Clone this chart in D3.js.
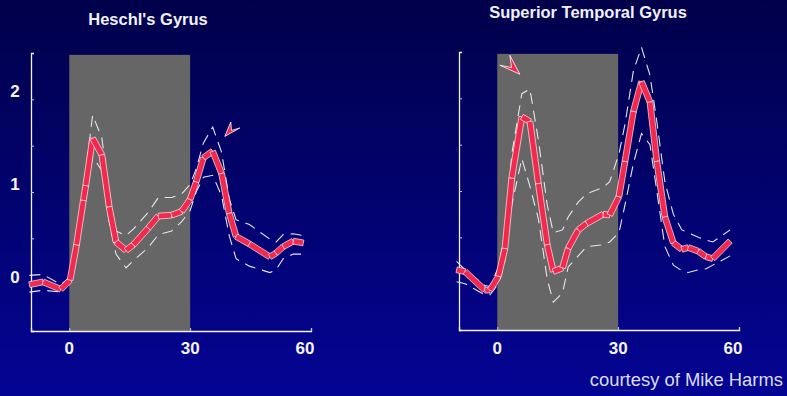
<!DOCTYPE html>
<html>
<head>
<meta charset="utf-8">
<script src="https://cdn.jsdelivr.net/npm/d3@7"></script>
<style>
  body { margin: 0; background: #000050; }
  svg { display: block; font-family: "Liberation Sans", Arial, sans-serif; }
</style>
</head>
<body>
<svg id="chart" width="787" height="396"></svg>
<script>
// Heschl's gyrus: time (s) and % signal change, with the +/- error band
const heschlTime  = [-9.9, -6.5, -2.1, 0.2, 1.8, 3.5, 4.1, 5.8, 8.1, 9.9, 11.6, 14.1, 15.9, 19.6, 22.1, 25.4, 27.9, 30.0, 31.5, 33.3, 35.6, 37.8, 39.7, 41.4, 44.7, 49.8, 51.3, 53.1, 55.6, 58.1];
const heschlMean  = [0.00, 0.03, -0.05, 0.05, 0.43, 0.91, 1.07, 1.58, 1.40, 0.84, 0.46, 0.37, 0.43, 0.61, 0.74, 0.75, 0.79, 0.92, 1.11, 1.37, 1.44, 1.20, 0.77, 0.52, 0.44, 0.30, 0.34, 0.41, 0.47, 0.45];
const heschlUpper = [0.10, 0.11, 0.00, 0.08, 0.53, 1.06, 1.23, 1.83, 1.58, 0.98, 0.58, 0.53, 0.60, 0.78, 0.94, 0.94, 0.98, 1.08, 1.25, 1.53, 1.70, 1.43, 0.93, 0.70, 0.65, 0.49, 0.46, 0.54, 0.55, 0.53];
const heschlLower = [-0.08, -0.06, -0.08, 0.03, 0.33, 0.78, 0.93, 1.38, 1.23, 0.68, 0.33, 0.18, 0.26, 0.40, 0.54, 0.58, 0.68, 0.80, 1.00, 1.16, 1.18, 0.96, 0.53, 0.28, 0.20, 0.13, 0.16, 0.28, 0.33, 0.33];

// Superior temporal gyrus
const stgTime  = [-10.1, -8.0, -3.1, -1.8, 0.3, 1.9, 3.6, 6.1, 8.1, 10.2, 12.4, 13.9, 16.2, 17.6, 20.1, 22.2, 26.3, 27.9, 30.2, 31.7, 33.8, 35.8, 37.9, 39.6, 41.6, 43.7, 45.8, 47.4, 49.9, 51.8, 53.5, 57.8];
const stgMean  = [0.15, 0.13, -0.07, -0.07, 0.08, 0.38, 1.14, 1.80, 1.75, 1.08, 0.42, 0.13, 0.17, 0.38, 0.58, 0.65, 0.75, 0.74, 0.94, 1.32, 1.86, 2.18, 1.96, 1.32, 0.72, 0.44, 0.37, 0.39, 0.35, 0.29, 0.27, 0.46];
const stgUpper = [0.24, 0.15, -0.02, -0.03, 0.18, 0.55, 1.40, 2.05, 2.10, 1.55, 0.85, 0.55, 0.58, 0.72, 0.88, 0.97, 1.04, 1.10, 1.40, 1.72, 2.30, 2.55, 2.25, 1.75, 1.10, 0.75, 0.58, 0.55, 0.50, 0.47, 0.45, 0.58];
const stgLower = [0.02, 0.00, -0.12, -0.12, 0.00, 0.25, 0.85, 1.35, 1.05, 0.70, 0.05, -0.20, -0.10, 0.18, 0.30, 0.40, 0.42, 0.45, 0.55, 0.85, 1.30, 1.62, 1.50, 1.00, 0.40, 0.20, 0.14, 0.12, 0.15, 0.16, 0.20, 0.30];

const stimulus = [0, 30];          // stimulus on/off (s)
const xTickValues = [0, 30, 60];
const yTickValues = [0.5, 1, 1.5, 2];
const yTickLabels = [0, 1, 2];
const xDomain = [-9.5, 60];
const yDomain = [-0.5, 2.5];

// arrow annotations, tip in data units
const heschlArrow = {t: 38.6, v: 1.60};
const stgArrow = {t: 5.6, v: 2.26};

const svg = d3.select("#chart");

// background gradient
const grad = svg.append("defs").append("linearGradient")
  .attr("id", "bg").attr("x1", 0).attr("y1", 0).attr("x2", 0).attr("y2", 1);
grad.append("stop").attr("offset", "0%").attr("stop-color", "#00004a");
grad.append("stop").attr("offset", "100%").attr("stop-color", "#040494");
svg.append("rect").attr("width", 787).attr("height", 396).attr("fill", "url(#bg)");

function drawPanel(opts) {
  const x = d3.scaleLinear().domain(xDomain).range(opts.xRange);
  const y = d3.scaleLinear().domain(yDomain).range(opts.yRange);
  const g = svg.append("g");

  // stimulus block
  g.append("rect")
    .attr("x", x(stimulus[0]))
    .attr("y", y(2.48))
    .attr("width", x(stimulus[1]) - x(stimulus[0]))
    .attr("height", y(yDomain[0]) - y(2.48))
    .attr("fill", "#666666");

  // axes
  const yAxis = g.append("g")
    .attr("transform", `translate(${opts.xRange[0]},0)`)
    .call(d3.axisRight(y).tickValues(yTickValues).tickSize(3).tickFormat(""));
  const xAxis = g.append("g")
    .attr("transform", `translate(0,${opts.yRange[0]})`)
    .call(d3.axisTop(x).tickValues(xTickValues).tickSize(3).tickFormat(""));
  [yAxis, xAxis].forEach(a => {
    a.select(".domain").attr("stroke", "#f2f2f2").attr("stroke-width", 1.3);
    a.selectAll(".tick line").attr("stroke", "#c8c8e0").attr("stroke-width", 1);
  });

  g.selectAll(".xlab")
    .data(xTickValues)
    .enter().append("text")
    .attr("x", d => x(d) + (d === 60 ? -6 : 0))
    .attr("y", 354)
    .attr("text-anchor", "middle")
    .attr("fill", "#f4f4f4")
    .style("font-size", "17px")
    .style("font-weight", "bold")
    .text(d => d);

  if (opts.yLabels) {
    g.selectAll(".ylab")
      .data(yTickLabels)
      .enter().append("text")
      .attr("x", 15)
      .attr("y", d => y(d) - 2)
      .attr("text-anchor", "middle")
      .attr("fill", "#f4f4f4")
      .style("font-size", "17px")
      .style("font-weight", "bold")
      .text(d => d);
  }

  // error band, dashed
  const band = d3.line()
    .x(d => x(d[0]))
    .y(d => y(d[1]));
  [opts.upper, opts.lower].forEach(vals => {
    g.append("path")
      .datum(opts.time.map((t, i) => [t, vals[i]]))
      .attr("fill", "none")
      .attr("stroke", "#e6e6f0")
      .attr("stroke-width", 1.1)
      .attr("stroke-dasharray", "11,7")
      .attr("d", band);
  });

  // mean response: each segment a red bar with a white rim
  const pts = opts.time.map((t, i) => [x(t), y(opts.mean[i])]);
  const half = 2.9;
  const segs = d3.pairs(pts).map(([a, b]) => {
    const dx = b[0] - a[0], dy = b[1] - a[1];
    const len = Math.hypot(dx, dy);
    const nx = -dy / len * half, ny = dx / len * half;
    return [[a[0] + nx, a[1] + ny], [b[0] + nx, b[1] + ny],
            [b[0] - nx, b[1] - ny], [a[0] - nx, a[1] - ny]];
  });
  g.selectAll(".seg")
    .data(segs)
    .enter().append("polygon")
    .attr("class", "seg")
    .attr("points", d => d.map(p => p.join(",")).join(" "))
    .attr("fill", "#f2284c")
    .attr("stroke", "#ffe8ee")
    .attr("stroke-width", 0.7)
    .attr("stroke-linejoin", "round");

  // arrow head
  const a = opts.arrow;
  const tx = x(a.t), ty = y(a.v);
  const s = opts.arrowShape.map(p => [tx + p[0], ty + p[1]]);
  g.append("polygon")
    .attr("points", s.map(p => p.join(",")).join(" "))
    .attr("fill", "#f2284c")
    .attr("stroke", "#ffffff")
    .attr("stroke-width", 0.8);

  // title
  svg.append("text")
    .attr("x", opts.titleX)
    .attr("y", opts.titleY)
    .attr("text-anchor", "middle")
    .attr("fill", "#f0f0f8")
    .style("font-size", "16.5px")
    .style("font-weight", "bold")
    .text(opts.title);
}

drawPanel({
  title: "Heschl's Gyrus", titleX: 148, titleY: 25,
  xRange: [31, 311], yRange: [331, 53],
  time: heschlTime, mean: heschlMean, upper: heschlUpper, lower: heschlLower,
  yLabels: true,
  arrow: heschlArrow,
  arrowShape: [[0, 0], [15, -8.4], [6.7, -6], [6, -14.4]]
});

drawPanel({
  title: "Superior Temporal Gyrus", titleX: 588, titleY: 18,
  xRange: [459, 739], yRange: [330, 52],
  time: stgTime, mean: stgMean, upper: stgUpper, lower: stgLower,
  yLabels: false,
  arrow: stgArrow,
  arrowShape: [[0, 0], [-20, -9], [-8.3, -6.7], [-10, -19]]
});

svg.append("text")
  .attr("x", 783)
  .attr("y", 386)
  .attr("text-anchor", "end")
  .attr("fill", "#dcdcf0")
  .style("font-size", "18.4px")
  .text("courtesy of Mike Harms");
</script>
</body>
</html>
